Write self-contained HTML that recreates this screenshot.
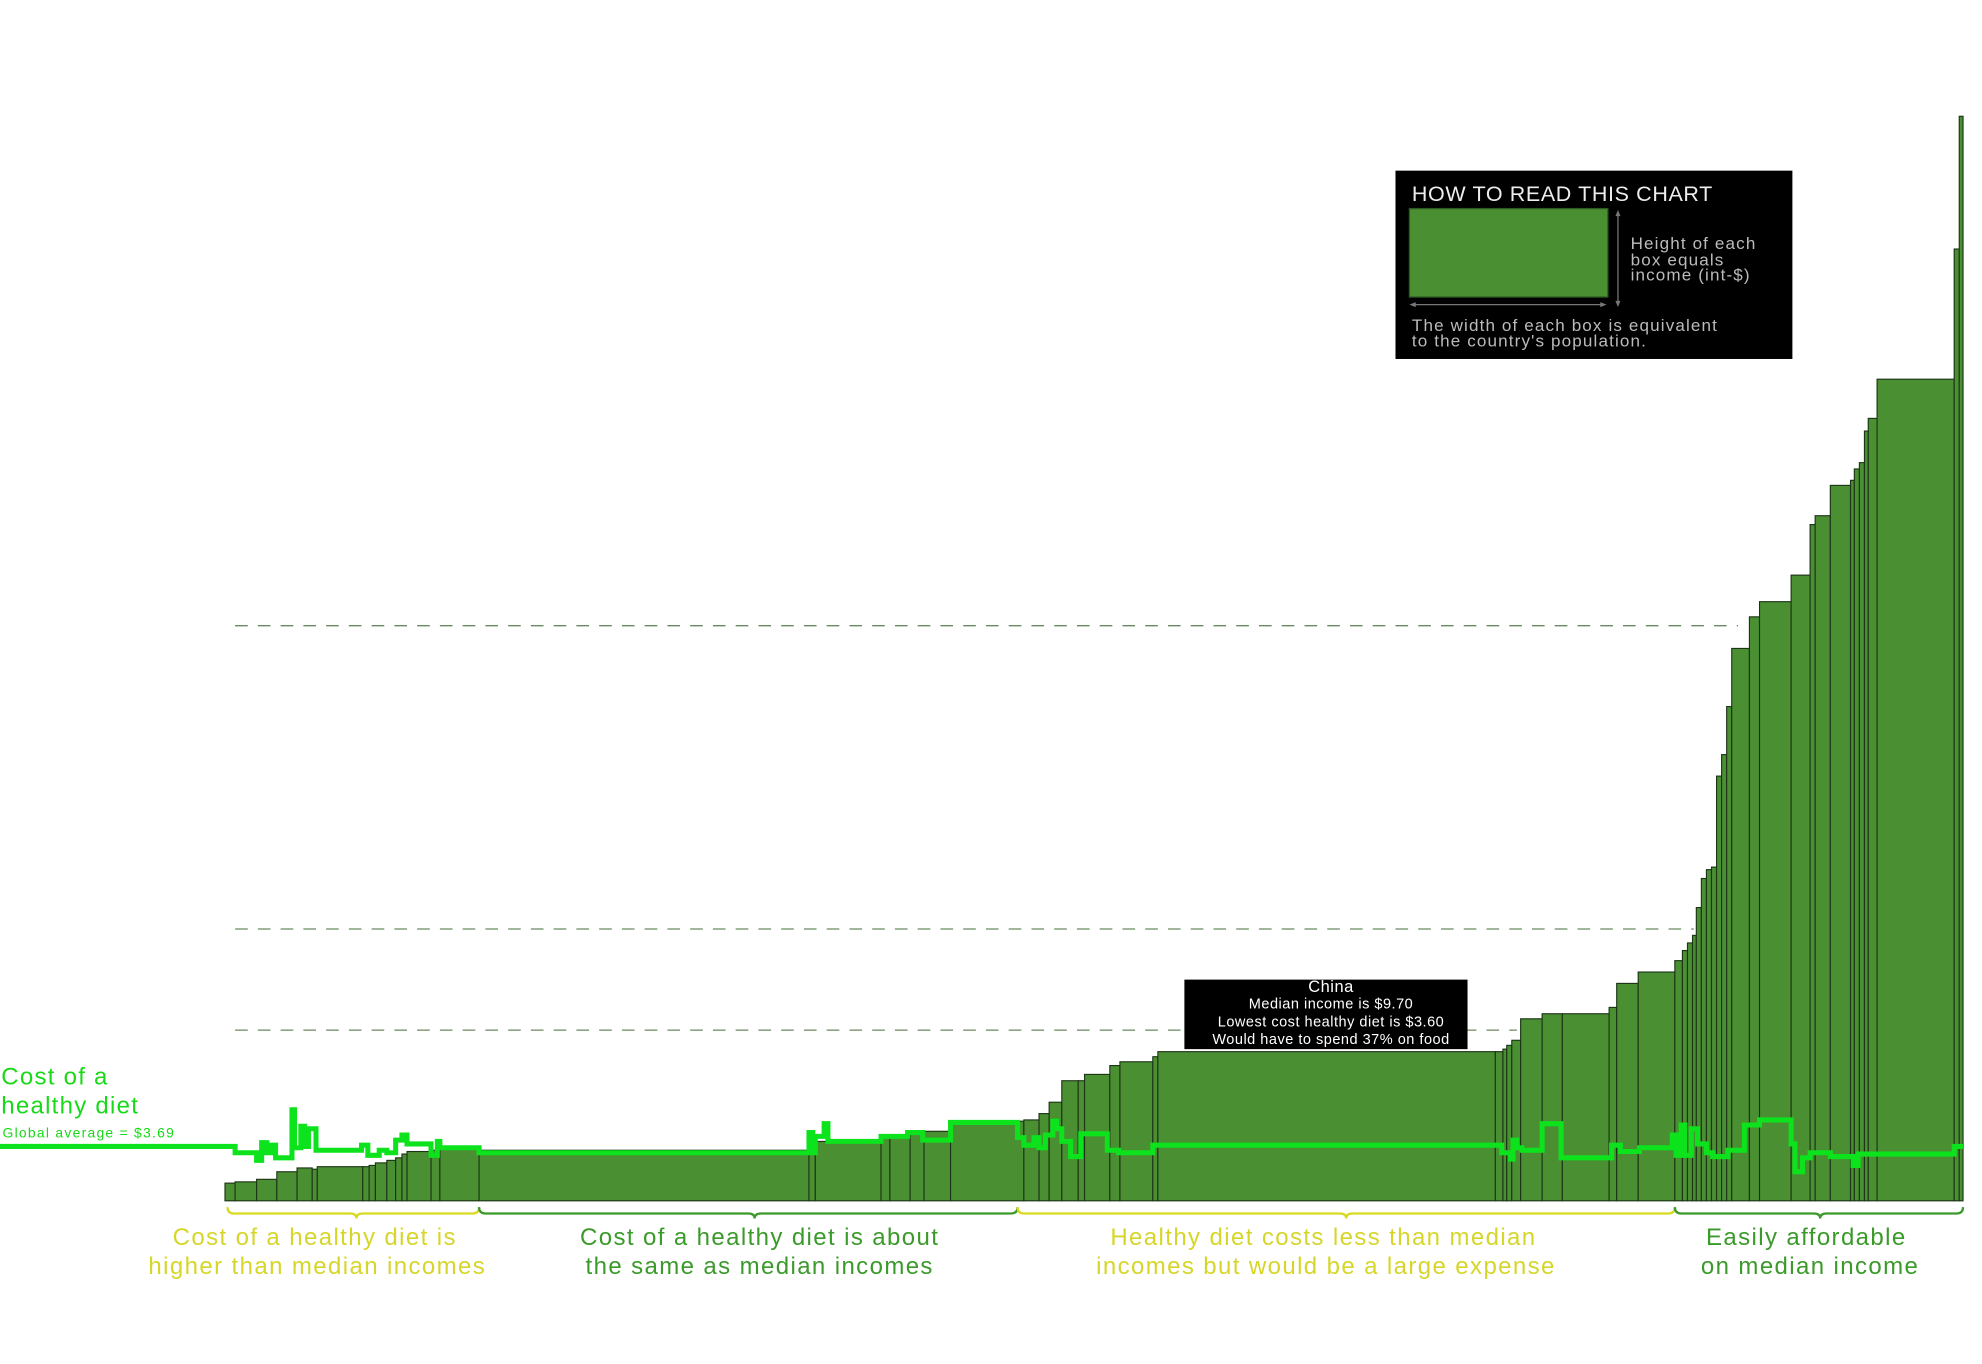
<!DOCTYPE html>
<html><head><meta charset="utf-8"><style>
html,body{margin:0;padding:0;background:#fff;}
svg{display:block;font-family:"Liberation Sans",sans-serif;}
</style></head><body>
<svg width="1982" height="1364" viewBox="0 0 1568 1079.1" preserveAspectRatio="none" xmlns="http://www.w3.org/2000/svg">
<g stroke="#6a8a60" stroke-width="1" stroke-dasharray="10,8">
<line x1="186" y1="495" x2="1375" y2="495"/>
<line x1="186" y1="735" x2="1340" y2="735"/>
<line x1="186" y1="815" x2="1200" y2="815"/>
</g>
<g fill="#4a8f32" stroke="#1c3517" stroke-width="0.9">
<rect x="178" y="936" width="8" height="14"/>
<rect x="186" y="935" width="17" height="15"/>
<rect x="203" y="933" width="16" height="17"/>
<rect x="219" y="927" width="16" height="23"/>
<rect x="235" y="924" width="12" height="26"/>
<rect x="247" y="925" width="4" height="25"/>
<rect x="251" y="923" width="36" height="27"/>
<rect x="287" y="923" width="5" height="27"/>
<rect x="292" y="922" width="5" height="28"/>
<rect x="297" y="920" width="9" height="30"/>
<rect x="306" y="918" width="7" height="32"/>
<rect x="313" y="916" width="5" height="34"/>
<rect x="318" y="913" width="4" height="37"/>
<rect x="322" y="911" width="19" height="39"/>
<rect x="341" y="910" width="7" height="40"/>
<rect x="348" y="908" width="31" height="42"/>
<rect x="379" y="910" width="261" height="40"/>
<rect x="640" y="905" width="5" height="45"/>
<rect x="645" y="903" width="52" height="47"/>
<rect x="697" y="900" width="7" height="50"/>
<rect x="704" y="899" width="16" height="51"/>
<rect x="720" y="897" width="11" height="53"/>
<rect x="731" y="895" width="21" height="55"/>
<rect x="752" y="887" width="58" height="63"/>
<rect x="810" y="886" width="12" height="64"/>
<rect x="822" y="881" width="8" height="69"/>
<rect x="830" y="872" width="10" height="78"/>
<rect x="840" y="855" width="13" height="95"/>
<rect x="853" y="855" width="5" height="95"/>
<rect x="858" y="850" width="20" height="100"/>
<rect x="878" y="843" width="8" height="107"/>
<rect x="886" y="840" width="26" height="110"/>
<rect x="912" y="836" width="4" height="114"/>
<rect x="916" y="832" width="267" height="118"/>
<rect x="1183" y="832" width="6" height="118"/>
<rect x="1189" y="830" width="3" height="120"/>
<rect x="1192" y="827" width="4" height="123"/>
<rect x="1196" y="823" width="7" height="127"/>
<rect x="1203" y="806" width="17" height="144"/>
<rect x="1220" y="802" width="16" height="148"/>
<rect x="1236" y="802" width="37" height="148"/>
<rect x="1273" y="797" width="6" height="153"/>
<rect x="1279" y="778" width="17" height="172"/>
<rect x="1296" y="769" width="29" height="181"/>
<rect x="1325" y="760" width="6" height="190"/>
<rect x="1331" y="752" width="4" height="198"/>
<rect x="1335" y="746" width="4" height="204"/>
<rect x="1339" y="740" width="3" height="210"/>
<rect x="1342" y="718" width="4" height="232"/>
<rect x="1346" y="695" width="4" height="255"/>
<rect x="1350" y="688" width="4" height="262"/>
<rect x="1354" y="686" width="4" height="264"/>
<rect x="1358" y="614" width="4" height="336"/>
<rect x="1362" y="597" width="4" height="353"/>
<rect x="1366" y="559" width="4" height="391"/>
<rect x="1370" y="513" width="14" height="437"/>
<rect x="1384" y="488" width="8" height="462"/>
<rect x="1392" y="476" width="25" height="474"/>
<rect x="1417" y="455" width="15" height="495"/>
<rect x="1432" y="415" width="4" height="535"/>
<rect x="1436" y="408" width="12" height="542"/>
<rect x="1448" y="384" width="16" height="566"/>
<rect x="1464" y="380" width="3" height="570"/>
<rect x="1467" y="371" width="4" height="579"/>
<rect x="1471" y="366" width="4" height="584"/>
<rect x="1475" y="341" width="3" height="609"/>
<rect x="1478" y="331" width="7" height="619"/>
<rect x="1485" y="300" width="61" height="650"/>
<rect x="1546" y="197" width="4" height="753"/>
<rect x="1550" y="92" width="3" height="858"/>
</g>
<polyline fill="none" stroke="#0ce31c" stroke-width="4" points="0,907 186,907 186,912 203,912 203,918 207,918 207,904 211,904 211,912 214,912 214,906 218,906 218,916 231,916 231,878 233,878 233,908 238,908 238,891 241,891 241,907 244,907 244,893 250,893 250,910 286,910 286,906 291,906 291,914 300,914 300,910 306,910 306,912 313,912 313,902 318,902 318,898 322,898 322,905 341,905 341,914 346,914 346,903 348,903 348,908 379,908 379,912 640,912 640,896 643,896 643,912 645,912 645,899 652,899 652,889 655,889 655,903 697,903 697,899 718,899 718,896 730,896 730,902 752,902 752,888 805,888 805,900 810,900 810,906 818,906 818,900 822,900 822,908 827,908 827,898 833,898 833,887 836,887 836,893 840,893 840,903 847,903 847,915 855,915 855,897 876,897 876,910 885,910 885,912 912,912 912,906 1188,906 1188,912 1195,912 1195,917 1197,917 1197,902 1200,902 1200,908 1204,908 1204,910 1220,910 1220,889 1235,889 1235,916 1275,916 1275,906 1282,906 1282,911 1297,911 1297,908 1323,908 1323,898 1326,898 1326,914 1330,914 1330,890 1333,890 1333,914 1338,914 1338,893 1343,893 1343,905 1350,905 1350,912 1355,912 1355,915 1367,915 1367,910 1380,910 1380,890 1392,890 1392,886 1417,886 1417,905 1420,905 1420,927 1426,927 1426,916 1432,916 1432,912 1448,912 1448,915 1466,915 1466,922 1470,922 1470,913 1546,913 1546,907 1553,907"/>
<g fill="none" stroke-width="1.8">
<path stroke="#d9d920" d="M180,955 q0,5 5,5 L277,960 q5,0 5,4 q0,-4 5,-4 L374,960 q5,0 5,-5"/>
<path stroke="#3a9a2a" d="M379,955 q0,5 5,5 L592,960 q5,0 5,4 q0,-4 5,-4 L800,960 q5,0 5,-5"/>
<path stroke="#d9d920" d="M805,955 q0,5 5,5 L1060,960 q5,0 5,4 q0,-4 5,-4 L1320,960 q5,0 5,-5"/>
<path stroke="#3a9a2a" d="M1325,955 q0,5 5,5 L1435,960 q5,0 5,4 q0,-4 5,-4 L1548,960 q5,0 5,-5"/>
</g>
<g font-size="19" text-anchor="middle" letter-spacing="1.1">
<text x="249" y="985" fill="#d6d62a">Cost of a healthy diet is</text>
<text x="251" y="1008" fill="#d6d62a">higher than median incomes</text>
<text x="601" y="985" fill="#3a9a2a">Cost of a healthy diet is about</text>
<text x="601" y="1008" fill="#3a9a2a">the same as median incomes</text>
<text x="1047" y="985" fill="#d6d62a">Healthy diet costs less than median</text>
<text x="1049" y="1008" fill="#d6d62a">incomes but would be a large expense</text>
<text x="1429" y="985" fill="#3a9a2a">Easily affordable</text>
<text x="1432" y="1008" fill="#3a9a2a">on median income</text>
</g>
<g fill="#19d919" letter-spacing="1">
<text x="1" y="858" font-size="19">Cost of a</text>
<text x="1" y="881" font-size="19">healthy diet</text>
<text x="2" y="900" font-size="11">Global average = $3.69</text>
</g>
<rect x="1104" y="135" width="314" height="149" fill="#000"/>
<text x="1117" y="159" font-size="17" fill="#eee" letter-spacing="0.5">HOW TO READ THIS CHART</text>
<rect x="1115" y="165" width="157" height="70" fill="#4a8f32" stroke="#2d5a22" stroke-width="1"/>
<g stroke="#777" stroke-width="1" fill="#777">
<line x1="1280" y1="168" x2="1280" y2="241"/>
<line x1="1117" y1="241" x2="1269" y2="241"/>
<path d="M1278,171 L1280,166 L1282,171 Z M1278,238 L1280,243 L1282,238 Z M1120,239 L1115,241 L1120,243 Z M1266,239 L1271,241 L1266,243 Z" stroke="none"/>
</g>
<g font-size="13.5" fill="#bbb" letter-spacing="0.9">
<text x="1290" y="197">Height of each</text>
<text x="1290" y="210">box equals</text>
<text x="1290" y="222">income (int-$)</text>
<text x="1117" y="262">The width of each box is equivalent</text>
<text x="1117" y="274">to the country's population.</text>
</g>
<rect x="937" y="775" width="224" height="55" fill="#000"/>
<g fill="#fff" text-anchor="middle" letter-spacing="0.4">
<text x="1053" y="785" font-size="13">China</text>
<text x="1053" y="798" font-size="11.5">Median income is $9.70</text>
<text x="1053" y="812" font-size="11.5">Lowest cost healthy diet is $3.60</text>
<text x="1053" y="826" font-size="11.5">Would have to spend 37% on food</text>
</g>
</svg>
</body></html>
